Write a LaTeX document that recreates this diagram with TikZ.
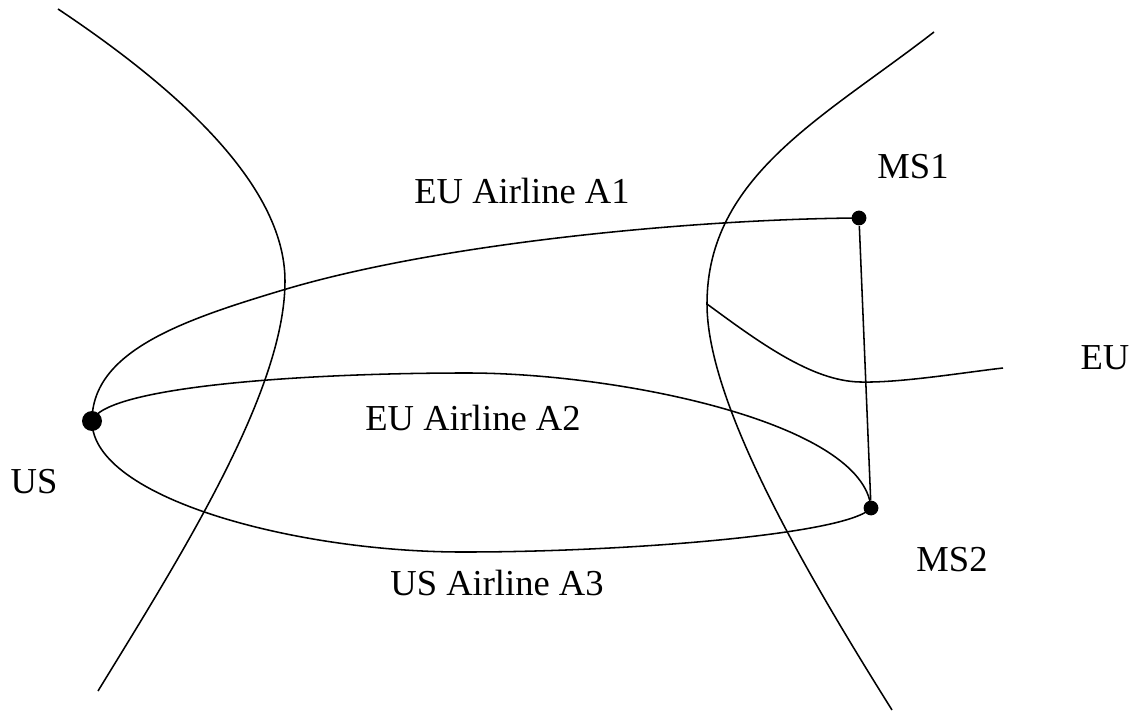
\documentclass[tikz,border=0pt]{standalone}
\usepackage{fontspec}
\setmainfont{Liberation Serif}
\begin{document}
\begin{tikzpicture}[line width=1.1pt,
  bigdot/.style={circle,fill,inner sep=0pt,minimum size=0.5cm},
  msdot/.style={circle,fill,inner sep=0pt,minimum size=0.37cm},
  lbl/.style={anchor=base,inner sep=0pt,font=\fontsize{26}{30}\selectfont}]
\useasboundingbox (0,0) rectangle (28.4,17.775);
\node[bigdot] (US) at (2.3,7.25) {};
\node[msdot] (MS1) at (21.475,12.325) {};
\node[msdot] (MS2) at (21.775,5.075) {};
\coordinate (fork) at (17.675,10.175);
\coordinate (euend) at (25.075,8.575);

\draw (1.45,17.55) .. controls (4.3,15.65) and (7.125,13.2) .. (7.125,10.75)
  .. controls (7.125,8.0) and (4.54,3.91) .. (2.45,0.5);
\draw (23.35,16.975) .. controls (20.585,14.83) and (17.675,13.375) .. (fork)
  .. controls (17.675,7.675) and (20.176,3.413) .. (22.3,0.025);
\draw (fork) .. controls (19.0,9.2) and (20.3,8.25) .. (21.5,8.225)
  .. controls (22.5,8.2) and (24.0,8.45) .. (euend);

\draw (US.center) .. controls (2.3,9.0) and (4.575,9.775) .. (7.075,10.525)
  .. controls (11.075,11.725) and (17.5,12.3) .. (MS1.center);
\draw (US.center) .. controls (2.6,8.1) and (7.5,8.45) .. (11.675,8.45)
  .. controls (15.5,8.45) and (21.6,7.2) .. (MS2.center);
\draw (US.center) .. controls (2.3,5.3) and (7.5,3.95) .. (11.675,3.975)
  .. controls (15.5,3.975) and (21.2,4.4) .. (MS2.center);
\draw (MS1) -- (MS2);

\node[lbl] (tA1) at (13.05,12.675) {EU Airline A1};
\node[lbl] (tA2) at (11.825,7.0) {EU Airline A2};
\node[lbl] (tA3) at (12.425,2.9) {US Airline A3};
\node[lbl] (tUS) at (0.85,5.425) {US};
\node[lbl] (tMS1) at (22.825,13.3) {MS1};
\node[lbl] (tMS2) at (23.8,3.5) {MS2};
\node[lbl] (tEU) at (27.625,8.525) {EU};
\end{tikzpicture}
\end{document}
